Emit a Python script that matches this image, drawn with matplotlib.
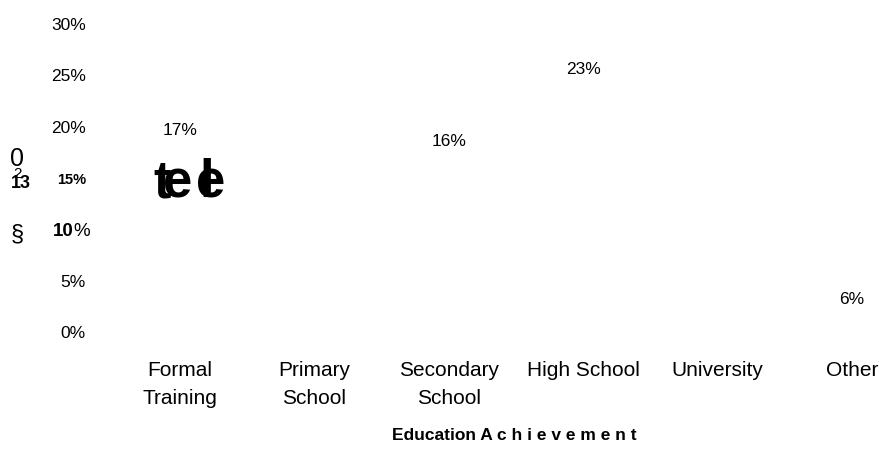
import numpy as np
import matplotlib.pyplot as plt

categories = ["Formal\nTraining", "Primary\nSchool", "Secondary\nSchool",
              "High School", "University", "Other"]
values = [17, np.nan, 16, 23, np.nan, 6]
yticks = [0, 5, 10, 15, 20, 25, 30]

plt.rcParams['font.family'] = ['Liberation Sans', 'DejaVu Sans']

fig = plt.figure(figsize=(8.86, 4.59), dpi=100)
W, H = 886, 459
# axes in pixel terms: x 95..886, y 24..332 (top..bottom)
ax = fig.add_axes([95 / W, 1 - 332 / H, 791 / W, (332 - 24) / H])

x = np.arange(len(categories))
ax.bar(x, np.nan_to_num(values), width=0.6, color='white')

for xi, v in zip(x, values):
    if np.isnan(v):
        continue
    # the small value's label sits below its top in the reference
    y = v + 2.6 if v >= 10 else v - 2.8
    ax.text(xi, y, f"{v:.0f}%", ha='center', va='center', fontsize=12.5)

ax.set_xlim(-0.632, 5.253)
ax.set_ylim(0, 30)
ax.set_xticks(x)
ax.set_xticklabels(categories, fontsize=15, linespacing=1.6, va='top')
ax.set_yticks(yticks)
ax.set_yticklabels([f"{t}%" for t in yticks], fontsize=12.5)
ax.tick_params(length=0)
ax.tick_params(axis='y', pad=6.5)
ax.tick_params(axis='x', pad=21)
for s in ax.spines.values():
    s.set_visible(False)

# the two odd tick labels in the reference
ylabs = ax.get_yticklabels()
ylabs[3].set_fontweight('bold')
ylabs[3].set_fontsize(10.5)
ylabs[2].set_visible(False)
fig.text(53 / W, 1 - 232 / H, "10", fontsize=13.5, fontweight='bold', ha='left', va='center')
fig.text(73 / W, 1 - 232 / H, "%", fontsize=13.5, ha='left', va='center')

# garbled glyphs from the original render
fig.text(10 / W, 1 - 159 / H, "0", fontsize=18, ha='left', va='center')
fig.text(11 / W, 1 - 184 / H, "13", fontsize=13, fontweight='bold', ha='left', va='center')
fig.text(13 / W, 1 - 174 / H, "2", fontsize=11, ha='left', va='center')
fig.text(11 / W, 1 - 234 / H, "§", fontsize=17, ha='left', va='center')
base = 1 - 197 / H
for gx, ch in [(153, "t"), (163, "e"), (199, "l"), (196, "e")]:
    fig.text(gx / W, base, ch, fontsize=38, fontweight='bold', ha='left', va='baseline')

fig.text(514 / W, 1 - 436 / H, "Education A c h i e v e m e n t", fontsize=12.5,
         fontweight='bold', ha='center', va='center')

fig.savefig("out.png", dpi=100)
